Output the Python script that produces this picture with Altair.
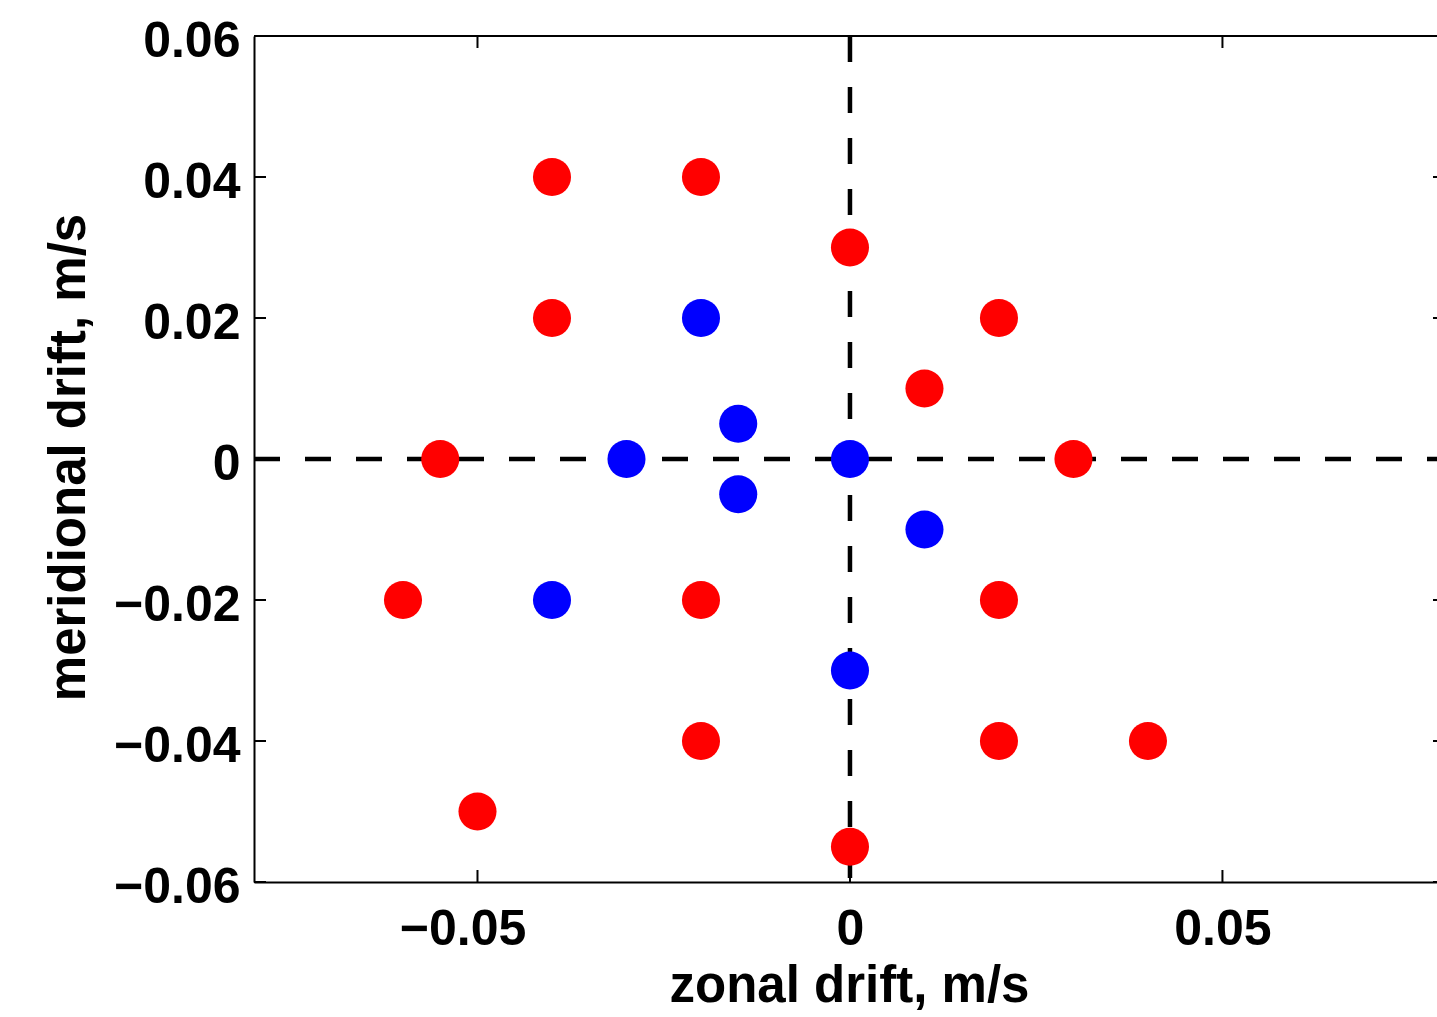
import altair as alt
import pandas as pd

# ---- data ----
red_x = [-0.04, -0.02, 0.0, -0.04, 0.02, 0.01, -0.055, 0.03, -0.06, -0.02, 0.02, -0.02, 0.02, 0.04, -0.05, 0.0]
red_y = [0.04, 0.04, 0.03, 0.02, 0.02, 0.01, 0.0, 0.0, -0.02, -0.02, -0.02, -0.04, -0.04, -0.04, -0.05, -0.055]
blue_x = [-0.02, -0.015, -0.03, 0.0, -0.015, 0.01, -0.04, 0.0]
blue_y = [0.02, 0.005, 0.0, 0.0, -0.005, -0.01, -0.02, -0.03]
x_ticks = [-0.05, 0.0, 0.05]
y_ticks = [-0.06, -0.04, -0.02, 0.0, 0.02, 0.04, 0.06]
x_domain = [-0.08, 0.0788]
y_domain = [-0.06, 0.06]
zero_line = [0.0]

W, H = 1183, 846
FONT = "Liberation Sans"

pts = pd.DataFrame({
    "x": red_x + blue_x,
    "y": red_y + blue_y,
    "c": ["red"] * len(red_x) + ["blue"] * len(blue_x),
})
xt = pd.DataFrame({"x": x_ticks})
yt = pd.DataFrame({"y": y_ticks})
zx = pd.DataFrame({"x": zero_line})
zy = pd.DataFrame({"y": zero_line})

xscale = alt.Scale(domain=x_domain, nice=False, zero=False)
yscale = alt.Scale(domain=y_domain, nice=False, zero=False)

x_axis = alt.Axis(
    values=x_ticks, format=".2~f", title="zonal drift, m/s",
    grid=False, ticks=False, tickSize=0, domain=True, domainColor="black", domainWidth=2,
    labelFont=FONT, labelFontWeight="bold", labelFontSize=50, labelColor="black",
    labelBaseline="top", labelPadding=22,
    labelOffset={"condition": {"test": "datum.value < 0", "value": -15}, "value": 0},
    titleFont=FONT, titleFontWeight="bold", titleFontSize=51, titleColor="black",
    titleX=595, titleY=119, titleAlign="center", titleBaseline="alphabetic",
)
y_axis = alt.Axis(
    values=y_ticks, format=".2~f", title="meridional drift, m/s",
    grid=False, ticks=False, tickSize=0, domain=True, domainColor="black", domainWidth=2,
    labelFont=FONT, labelFontWeight="bold", labelFontSize=50, labelColor="black",
    labelBaseline="alphabetic", labelOffset=20, labelPadding=14, labelAlign="right",
    titleFont=FONT, titleFontWeight="bold", titleFontSize=51, titleColor="black",
    titleX=-170, titleY=421, titleAlign="center", titleBaseline="alphabetic", titleAngle=270,
)

X = alt.X("x:Q", scale=xscale, axis=x_axis)
Y = alt.Y("y:Q", scale=yscale, axis=y_axis)

dash = [26, 25]

points = alt.Chart(pts).mark_circle(size=1450, opacity=1).encode(
    x=X, y=Y,
    color=alt.Color("c:N", scale=alt.Scale(domain=["red", "blue"], range=["#ff0000", "#0000ff"]), legend=None),
)

vline = alt.Chart(zx).mark_rule(color="black", strokeWidth=4.5, strokeDash=dash).encode(
    x=X, y=alt.value(0), y2=alt.value(H))
hline = alt.Chart(zy).mark_rule(color="black", strokeWidth=4.5, strokeDash=dash).encode(
    y=Y, x=alt.value(0), x2=alt.value(W))

top_border = alt.Chart(zx).mark_rule(color="black", strokeWidth=2).encode(
    x=alt.value(0), x2=alt.value(W), y=alt.value(0))

top_ticks = alt.Chart(xt).mark_rule(color="black", strokeWidth=2).encode(
    x=X, y=alt.value(0), y2=alt.value(12))
bot_ticks = alt.Chart(xt).mark_rule(color="black", strokeWidth=2).encode(
    x=X, y=alt.value(H - 12), y2=alt.value(H))
left_ticks = alt.Chart(yt).mark_rule(color="black", strokeWidth=2).encode(
    y=Y, x=alt.value(0), x2=alt.value(12))
right_ticks = alt.Chart(yt).mark_rule(color="black", strokeWidth=2).encode(
    y=Y, x=alt.value(W - 4), x2=alt.value(W))

# dashed zero lines beneath the dots
chart = alt.layer(
    vline, hline, top_border, top_ticks, bot_ticks, left_ticks, right_ticks, points
).properties(
    width=W, height=H,
    autosize=alt.AutoSizeParams(type="none"),
    padding={"left": 254, "top": 36, "right": 0, "bottom": 135},
    background="white",
).configure_view(stroke=None)

chart.save("out.html", embed_options={"renderer": "svg", "actions": False})
